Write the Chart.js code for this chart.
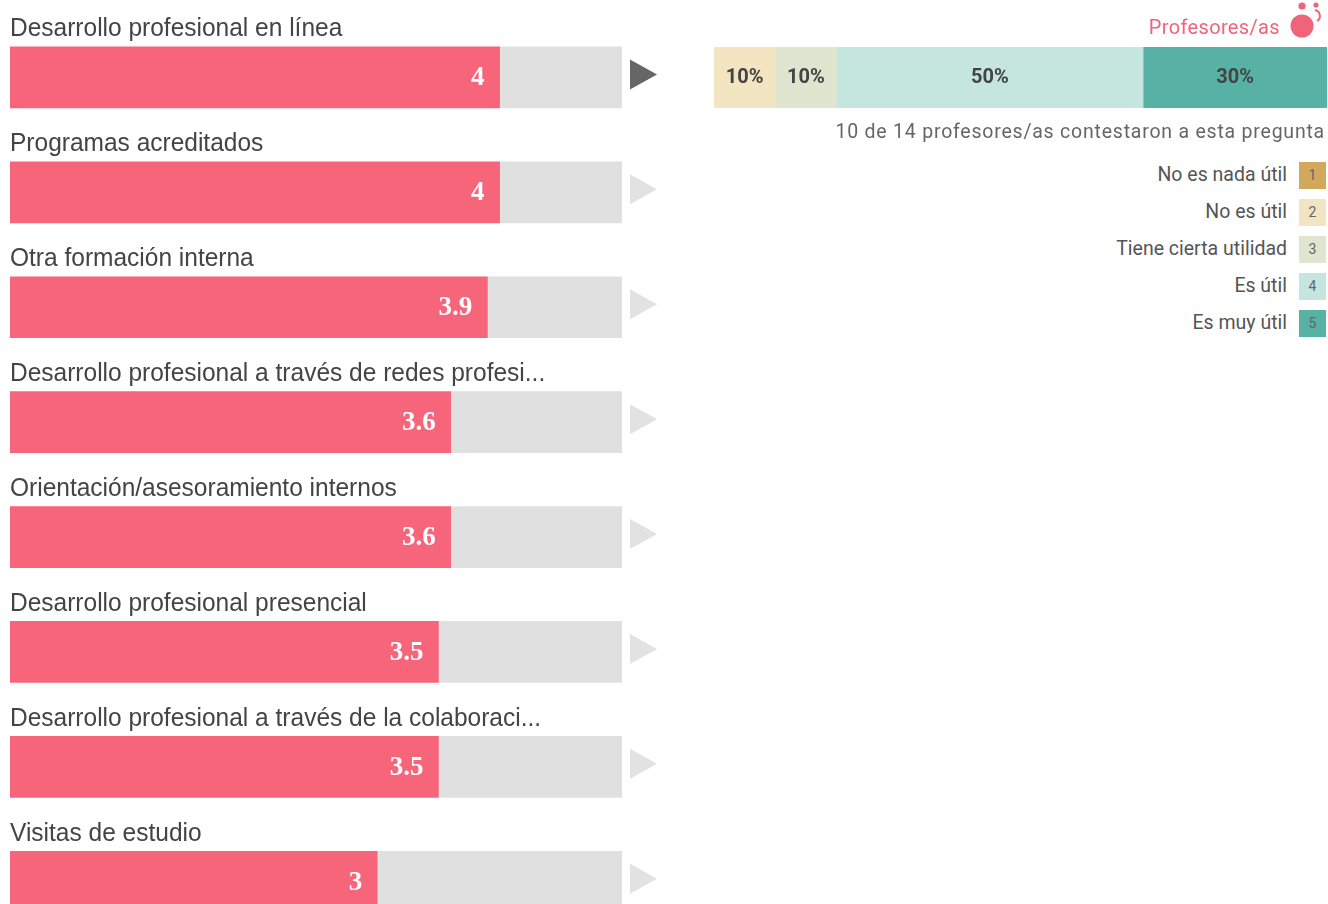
<!DOCTYPE html>
<html>
<head>
<meta charset="utf-8">
<script src="https://cdn.jsdelivr.net/npm/chart.js@4/dist/chart.umd.js"></script>
<style>
html, body { margin: 0; padding: 0; background: #fff; overflow: hidden; width: 1328px; height: 904px; }
body { filter: blur(0.5px); }
#leftwrap { position: absolute; left: 0; top: 0; width: 680px; height: 960px; }
#rightwrap { position: absolute; left: 700px; top: 0; width: 628px; height: 130px; }
#note { position: absolute; right: 3px; top: 120px; font: 19.5px Roboto, sans-serif; color: #666; white-space: nowrap; letter-spacing: 0.78px; }
#who { position: absolute; right: 48px; top: 15px; font: 20px Roboto, sans-serif; color: #f0637a; white-space: nowrap; letter-spacing: 0.35px; }
#icon { position: absolute; left: 1285px; top: 0; }
.legrow { position: absolute; right: 41px; font: 19.5px Roboto, sans-serif; color: #555; white-space: nowrap; }
.swatch { position: absolute; left: 1299px; width: 27px; height: 27px; font: 14px Roboto, sans-serif; color: #666; text-align: center; line-height: 27px; }
</style>
</head>
<body>
<div id="leftwrap"><canvas id="barchart"></canvas></div>
<div id="rightwrap"><canvas id="stackchart"></canvas></div>
<div id="who">Profesores/as</div>
<svg id="icon" width="43" height="40" viewBox="0 0 43 40">
  <circle cx="17" cy="26" r="11.5" fill="#f0637a"/>
  <circle cx="17" cy="6" r="3.6" fill="#f0637a"/>
  <circle cx="31" cy="5" r="2.6" fill="#f0637a"/>
  <path d="M30 10 a6 6 0 0 1 2 11" fill="none" stroke="#f0637a" stroke-width="2"/>
</svg>
<div id="note"></div>
<div id="legend"></div>
<script>
// left chart
const categories = [
    'Desarrollo profesional en línea',
    'Programas acreditados',
    'Otra formación interna',
    'Desarrollo profesional a través de redes profesi...',
    'Orientación/asesoramiento internos',
    'Desarrollo profesional presencial',
    'Desarrollo profesional a través de la colaboraci...',
    'Visitas de estudio'
];
const scores = [4, 4, 3.9, 3.6, 3.6, 3.5, 3.5, 3];
const maxScore = 5;
const selectedRow = 0;

// right chart
const shareLabels = ['No es nada útil', 'No es útil', 'Tiene cierta utilidad', 'Es útil', 'Es muy útil'];
const shareValues = [0, 10, 10, 50, 30];
const shareColors = ['#d2a85c', '#f4e5c2', '#e0e5d0', '#c4e6df', '#58b1a5'];
const noteText = '10 de 14 profesores/as contestaron a esta pregunta';

document.getElementById('note').textContent = noteText;

// labels above the bars, numbers inside, arrow to the right
const rowdecor = {
    id: 'rowdecor',
    afterDatasetsDraw(chart) {
        const ctx = chart.ctx;
        const x = chart.scales.x;
        const y = chart.scales.y;
        ctx.save();
        categories.forEach(function (name, i) {
            const cy = y.getPixelForValue(i);
            ctx.fillStyle = '#444';
            ctx.font = '25px "Liberation Sans", sans-serif';
            ctx.textAlign = 'left';
            ctx.textBaseline = 'alphabetic';
            ctx.save();
            ctx.translate(10, cy - 41);
            ctx.scale(0.98, 1);
            ctx.fillText(name, 0, 0);
            ctx.restore();

            ctx.fillStyle = '#fff';
            ctx.font = 'bold 27px "Liberation Serif", serif';
            ctx.textAlign = 'right';
            ctx.textBaseline = 'middle';
            ctx.fillText(String(scores[i]), x.getPixelForValue(scores[i]) - 15, cy + 1);

            const ax = x.getPixelForValue(maxScore) + 8;
            const ay = cy - 3;
            ctx.fillStyle = i === selectedRow ? '#666666' : '#e2e2e2';
            ctx.beginPath();
            ctx.moveTo(ax, ay - 15);
            ctx.lineTo(ax + 27, ay);
            ctx.lineTo(ax, ay + 15);
            ctx.closePath();
            ctx.fill();
        });
        ctx.restore();
    }
};

new Chart(document.getElementById('barchart'), {
    type: 'bar',
    data: {
        labels: categories,
        datasets: [
            { data: scores, backgroundColor: '#f7657b', barThickness: 61, stack: 's' },
            { data: scores.map(function (v) { return maxScore - v; }), backgroundColor: '#e0e0e0', barThickness: 61, stack: 's' }
        ]
    },
    options: {
        indexAxis: 'y',
        responsive: true,
        maintainAspectRatio: false,
        animation: false,
        layout: { padding: { left: 10, right: 58, top: 20, bottom: 20.8 } },
        plugins: { legend: { display: false }, tooltip: { enabled: false } },
        scales: {
            x: { display: false, min: 0, max: maxScore, stacked: true },
            y: { display: false, stacked: true }
        }
    },
    plugins: [rowdecor]
});

const sharenumbers = {
    id: 'sharenumbers',
    afterDatasetsDraw(chart) {
        const ctx = chart.ctx;
        ctx.save();
        ctx.fillStyle = '#444';
        ctx.font = 'bold 20px Roboto, sans-serif';
        ctx.textAlign = 'center';
        ctx.textBaseline = 'middle';
        chart.data.datasets.forEach(function (ds, i) {
            if (ds.data[0] > 0) {
                const bar = chart.getDatasetMeta(i).data[0];
                ctx.fillText(ds.data[0] + '%', (bar.base + bar.x) / 2, bar.y);
            }
        });
        ctx.restore();
    }
};

new Chart(document.getElementById('stackchart'), {
    type: 'bar',
    data: {
        labels: ['Profesores/as'],
        datasets: shareValues.map(function (v, i) {
            return { label: shareLabels[i], data: [v], backgroundColor: v > 0 ? shareColors[i] : 'transparent', barThickness: 61 };
        })
    },
    options: {
        indexAxis: 'y',
        responsive: true,
        maintainAspectRatio: false,
        animation: false,
        layout: { padding: { left: 14, right: 1, top: 47, bottom: 22 } },
        plugins: { legend: { display: false }, tooltip: { enabled: false } },
        scales: {
            x: { display: false, min: 0, max: 100, stacked: true },
            y: { display: false, stacked: true }
        }
    },
    plugins: [sharenumbers]
});

// legend rows
const legend = document.getElementById('legend');
shareLabels.forEach(function (name, i) {
    const top = 162 + i * 37;
    const row = document.createElement('div');
    row.className = 'legrow';
    row.style.top = (top + 1) + 'px';
    row.textContent = name;
    legend.appendChild(row);
    const sw = document.createElement('div');
    sw.className = 'swatch';
    sw.style.top = top + 'px';
    sw.style.background = shareColors[i];
    sw.textContent = i + 1;
    legend.appendChild(sw);
});
</script>
</body>
</html>
